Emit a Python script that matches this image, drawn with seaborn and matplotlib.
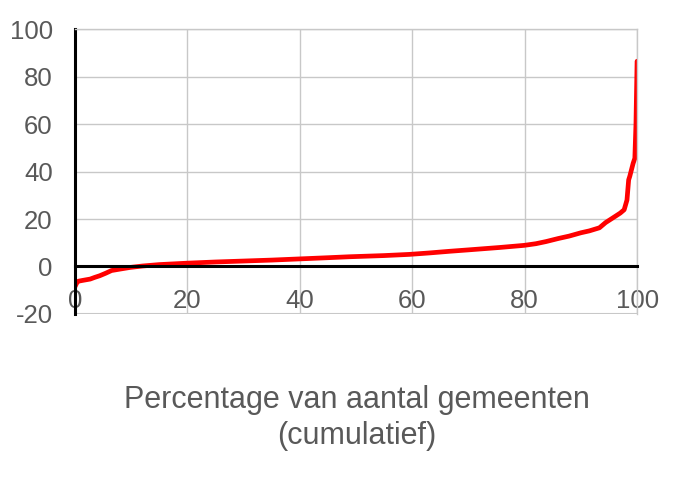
import matplotlib
matplotlib.use("Agg")
import matplotlib.pyplot as plt
import seaborn as sns
import pandas as pd

# cumulative percentage of municipalities (x) vs value (y)
pct = [0.0, 0.3, 0.6, 1.5, 2.7, 3.5, 4.4, 5.5, 6.5, 8.0, 9.8, 12.0, 15.0, 20.0,
       25.0, 30.0, 35.0, 40.0, 45.0, 48.8, 55.0, 59.5, 63.0, 66.6, 70.0, 75.5,
       79.9, 82.0, 83.8, 86.0, 87.9, 90.0, 91.5, 93.3, 94.4, 95.9, 97.0, 97.7,
       98.2, 98.5, 98.7, 99.3, 99.6, 99.8, 100.0]
values = [-8.5, -7.0, -6.2, -5.8, -5.3, -4.6, -3.9, -2.8, -1.7, -1.1, -0.4, 0.2,
          0.8, 1.4, 1.9, 2.3, 2.7, 3.2, 3.7, 4.1, 4.6, 5.1, 5.7, 6.4, 7.0, 8.0,
          8.9, 9.6, 10.5, 11.8, 12.8, 14.2, 15.0, 16.3, 18.5, 20.8, 22.5, 23.9,
          28.0, 36.5, 38.0, 43.5, 45.6, 60.0, 86.5]

xticks = [0, 20, 40, 60, 80, 100]
yticks = [-20, 0, 20, 40, 60, 80, 100]
xlabel = "Percentage van aantal gemeenten\n(cumulatief)"

df = pd.DataFrame({"pct": pct, "value": values})

sns.set_theme(style="white")
plt.rcParams['font.family'] = ['Liberation Sans', 'DejaVu Sans']
plt.rcParams['axes.unicode_minus'] = False

fig = plt.figure(figsize=(6.88, 4.86), dpi=100)
ax = fig.add_axes([0.109, 0.354, 0.817, 0.586])

sns.lineplot(data=df, x="pct", y="value", color="#ff0000", linewidth=3.4,
             ax=ax, estimator=None, sort=False)

ax.set_xlim(0, 100)
ax.set_ylim(-20, 100)
ax.set_xticks(xticks)
ax.set_yticks(yticks)
ax.grid(True, color="#c8c8c8", linewidth=1.0)
ax.set_axisbelow(True)

grey_txt = "#595959"
ax.tick_params(axis="both", labelsize=18.5, labelcolor=grey_txt, color="black",
               length=6, width=2, direction="out")
ax.tick_params(axis="y", pad=10)
ax.tick_params(axis="x", pad=10)

ax.spines['bottom'].set_position(('data', 0))
ax.spines['bottom'].set_color("black")
ax.spines['bottom'].set_linewidth(2.2)
ax.spines['left'].set_color("black")
ax.spines['left'].set_linewidth(2.2)
ax.spines['top'].set_color("#c8c8c8")
ax.spines['right'].set_color("#c8c8c8")
ax.spines['top'].set_linewidth(1.0)
ax.spines['right'].set_linewidth(1.0)
ax.axhline(-20, color="#c8c8c8", linewidth=1.5, zorder=0)

ax.set_xlabel("")
ax.set_ylabel("")
fig.text(0.519, 0.140, xlabel, ha="center", va="center", fontsize=22,
         color=grey_txt, linespacing=1.3)

fig.savefig("out.png", dpi=100)
